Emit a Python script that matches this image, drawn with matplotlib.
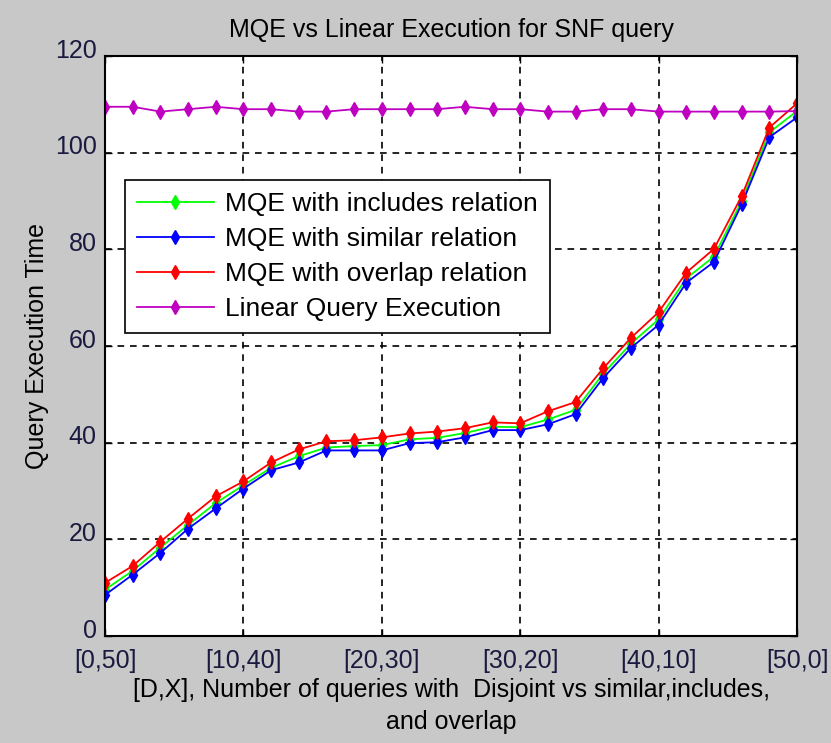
import matplotlib
matplotlib.use("Agg")
import matplotlib.pyplot as plt
import matplotlib.transforms as mtransforms
import numpy as np

# number of disjoint queries (D); X = 50 - D
d_queries = list(range(0, 51, 2))
tick_pos = [0, 10, 20, 30, 40, 50]
tick_labels = ["[0,50]", "[10,40]", "[20,30]", "[30,20]", "[40,10]", "[50,0]"]

includes = [9.6, 13.5, 18.3, 23.0, 27.5, 31.2, 34.8, 37.2, 39.0, 39.3, 39.5, 40.7, 41.0,
            42.0, 43.3, 43.2, 44.8, 46.8, 54.3, 60.5, 65.5, 74.0, 78.5, 90.0, 104.2, 108.6]
similar = [8.5, 12.7, 17.2, 22.2, 26.4, 30.5, 34.3, 35.9, 38.4, 38.4, 38.4, 39.9, 40.1,
           41.1, 42.6, 42.6, 43.8, 45.9, 53.4, 59.6, 64.4, 73.1, 77.4, 89.3, 103.2, 107.3]
overlap = [11.0, 14.5, 19.5, 24.3, 28.9, 32.0, 35.9, 38.6, 40.3, 40.5, 41.1, 41.9, 42.3,
           43.0, 44.2, 44.0, 46.5, 48.4, 55.4, 61.7, 67.0, 75.2, 80.1, 91.0, 105.2, 110.2]
linear = [109.5, 109.5, 108.5, 109.0, 109.5, 109.0, 109.0, 108.5, 108.5, 109.0, 109.0, 109.0, 109.0,
          109.5, 109.0, 109.0, 108.5, 108.5, 109.0, 109.0, 108.5, 108.5, 108.5, 108.5, 108.5, 108.6]

font = ["Liberation Sans", "DejaVu Sans"]

fig = plt.figure(figsize=(8.31, 7.43), dpi=100, facecolor="#c8c8c8")
ax = fig.add_axes([0.1264, 0.144, 0.8327, 0.7806])

series = [
    (includes, "#00ff00", "MQE with includes relation"),
    (similar, "#0000ff", "MQE with similar relation"),
    (overlap, "#ff0000", "MQE with overlap relation"),
    (linear, "#c000c0", "Linear Query Execution"),
]
for vals, col, lab in series:
    ax.plot(d_queries, vals, color=col, lw=1.3, marker="d", ms=7, mec=col, mfc=col, label=lab)

ax.set_xlim(0, 50)
ax.set_ylim(0, 120)
ax.set_xticks(tick_pos)
ax.set_xticklabels(tick_labels)
ax.set_yticks(range(0, 121, 20))
ax.grid(True, color="black", linestyle=(0, (4, 3.5)), linewidth=1.2)
ax.tick_params(direction="in", top=True, right=True, length=5, width=1, colors="black",
               labelsize=18)
ax.tick_params(axis="x", pad=9)
ax.tick_params(axis="y", pad=6)
# y tick labels sit a little above their ticks, as in the original
shift = mtransforms.ScaledTranslation(0, 8 / 100, fig.dpi_scale_trans)
for lbl in ax.get_yticklabels():
    lbl.set_transform(lbl.get_transform() + shift)
for lbl in ax.get_xticklabels() + ax.get_yticklabels():
    lbl.set_family(font)
    lbl.set_color("#1a1a40")
for sp in ax.spines.values():
    sp.set_linewidth(1.5)

ax.set_title("MQE vs Linear Execution for SNF query", fontsize=18, family=font, pad=14)
ax.set_xlabel("[D,X], Number of queries with  Disjoint vs similar,includes,\nand overlap",
              fontsize=18, family=font, linespacing=1.4, labelpad=4)
ax.set_ylabel("Query Execution Time", fontsize=18, family=font, labelpad=4)

leg = ax.legend(loc="upper left", bbox_to_anchor=(0.029, 0.786),
                prop={"family": font, "size": 19},
                frameon=True, fancybox=False, edgecolor="black", framealpha=1,
                handlelength=2.9, borderpad=0.45, labelspacing=0.42, handletextpad=0.45,
                borderaxespad=0)
leg.get_frame().set_linewidth(1.2)

fig.savefig("out.png", dpi=100, facecolor=fig.get_facecolor())
